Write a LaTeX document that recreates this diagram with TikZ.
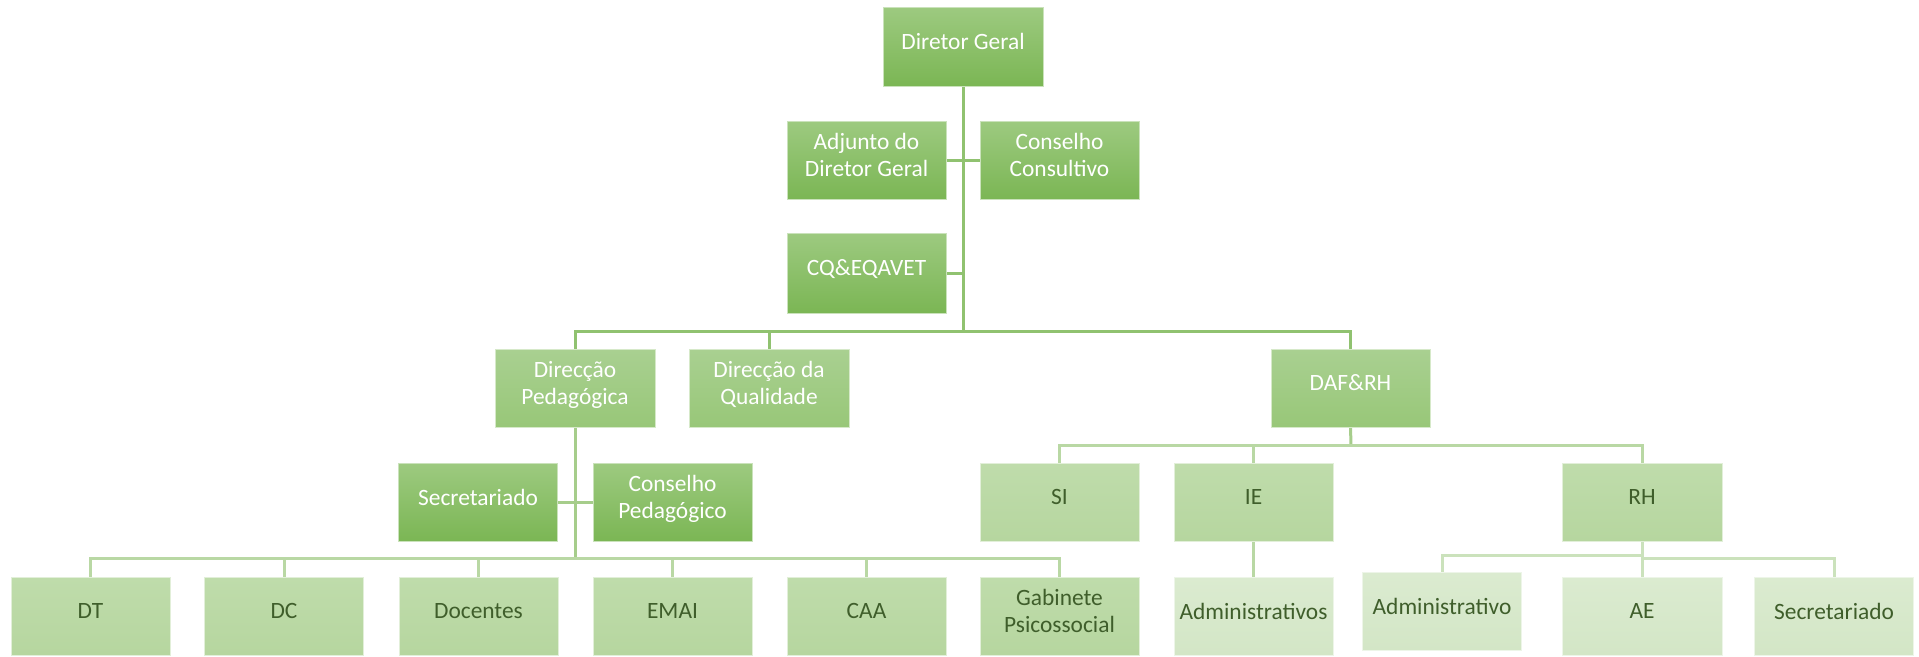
\documentclass[tikz,border=0pt]{standalone}
\usepackage{fontspec}
\setmainfont{Carlito}
\usetikzlibrary{backgrounds}
\definecolor{tA}{HTML}{9DCA80}
\definecolor{bA}{HTML}{7BB654}
\definecolor{tB}{HTML}{A9D091}
\definecolor{bB}{HTML}{98C778}
\definecolor{tC}{HTML}{BFDCAB}
\definecolor{bC}{HTML}{B6D69F}
\definecolor{tD}{HTML}{DBEBD0}
\definecolor{bD}{HTML}{D3E6C6}
\definecolor{txt}{HTML}{3F5E2B}
\definecolor{lnA}{HTML}{90C270}
\definecolor{lnB}{HTML}{A6CD8B}
\definecolor{lnC}{HTML}{B9D8A4}
\definecolor{lnD}{HTML}{CBE2BC}
\newcommand\lowstrut{\rule[-10pt]{0pt}{0pt}}
\tikzset{
  box/.style={rectangle, minimum width=159pt, minimum height=78pt, inner sep=0pt,
    align=center, font=\fontsize{23.4}{26.5}\selectfont, draw=white!60!#1, line width=0.8pt},
  lvA/.style={box=bA, top color=tA, bottom color=bA, text=white},
  lvB/.style={box=bB, top color=tB, bottom color=bB, text=white},
  lvC/.style={box=bC, top color=tC, bottom color=bC, text=txt},
  lvD/.style={box=bD, top color=tD, bottom color=bD, text=txt},
  lnk/.style={line width=3pt},
}
\begin{document}
\begin{tikzpicture}[x=1pt,y=-1pt]
\useasboundingbox (0,0) rectangle (1919,656);
% nodes
\node[lvA, minimum width=160pt, minimum height=79pt] (dg) at (963,46.5) {Diretor Geral\lowstrut};
\node[lvA] (adj) at (866.5,160) {Adjunto do\\Diretor Geral\lowstrut};
\node[lvA] (cc) at (1059.5,160) {Conselho\\Consultivo\lowstrut};
\node[lvA, minimum height=80pt] (cq) at (866.5,273) {CQ\&EQAVET\lowstrut};
\node[lvB, minimum width=160pt] (dp) at (575,388) {Direcção\\Pedagógica\lowstrut};
\node[lvB, minimum width=160pt] (dq) at (769,388) {Direcção da\\Qualidade\lowstrut};
\node[lvB] (daf) at (1350.5,388) {DAF\&RH\lowstrut};
\node[lvA] (sec) at (478,502) {Secretariado\lowstrut};
\node[lvA] (cp) at (672.5,502) {Conselho\\Pedagógico\lowstrut};
\node[lvC] (si) at (1059.5,502) {SI\lowstrut};
\node[lvC] (ie) at (1253.5,502) {IE\lowstrut};
\node[lvC, minimum width=160pt] (rh) at (1642,502) {RH\lowstrut};
\node[lvC] (dt) at (90.5,616) {DT\lowstrut};
\node[lvC] (dc) at (284,616) {DC\lowstrut};
\node[lvC] (doc) at (478.5,616) {Docentes\lowstrut};
\node[lvC] (emai) at (672.5,616) {EMAI\lowstrut};
\node[lvC] (caa) at (866.5,616) {CAA\lowstrut};
\node[lvC] (gab) at (1059.5,616) {Gabinete\\Psicossocial\lowstrut};
\node[lvD] (adms) at (1253.5,616) {Administrativos\lowstrut};
\node[lvD] (adm) at (1442,611.5) {Administrativo\lowstrut};
\node[lvD, minimum width=160pt] (ae) at (1642,616) {AE\lowstrut};
\node[lvD] (srh) at (1834,616) {Secretariado\lowstrut};
% bus coordinates
\coordinate (busA) at (963,331);
\coordinate (busP) at (575,558);
\coordinate (busF) at (1351,445);
\coordinate (busR) at (1642,555);
\coordinate (busS) at (1642,558);
% connectors
\begin{scope}[on background layer]
\draw[lnk, lnA] (dg.south) -- (busA);
\draw[lnk, lnA] (adj.east) -- (cc.west);
\draw[lnk, lnA] (cq.east) -- (cq.east -| dg.south);
\draw[lnk, lnA] (dp.north) |- (busA) -| (daf.north);
\draw[lnk, lnA] (dq.north) -- (dq.north |- busA);
\draw[lnk, lnB] (dp.south) -- (busP);
\draw[lnk, lnB] (sec.east) -- (cp.west);
\draw[lnk, lnC] (dt.north) |- (busP) -| (gab.north);
\draw[lnk, lnC] (dc.north) -- (dc.north |- busP);
\draw[lnk, lnC] (doc.north) -- (doc.north |- busP);
\draw[lnk, lnC] (emai.north) -- (emai.north |- busP);
\draw[lnk, lnC] (caa.north) -- (caa.north |- busP);
\draw[lnk, lnB] (daf.south) -- (busF);
\draw[lnk, lnC] (si.north) |- (busF) -| (rh.north);
\draw[lnk, lnC] (ie.north) -- (ie.north |- busF);
\draw[lnk, lnC] (ie.south) -- (adms.north);
\draw[lnk, lnD] (rh.south) -- (ae.north);
\draw[lnk, lnD] (adm.north) |- (busR);
\draw[lnk, lnD] (srh.north) |- (busS);
\end{scope}
\end{tikzpicture}
\end{document}
